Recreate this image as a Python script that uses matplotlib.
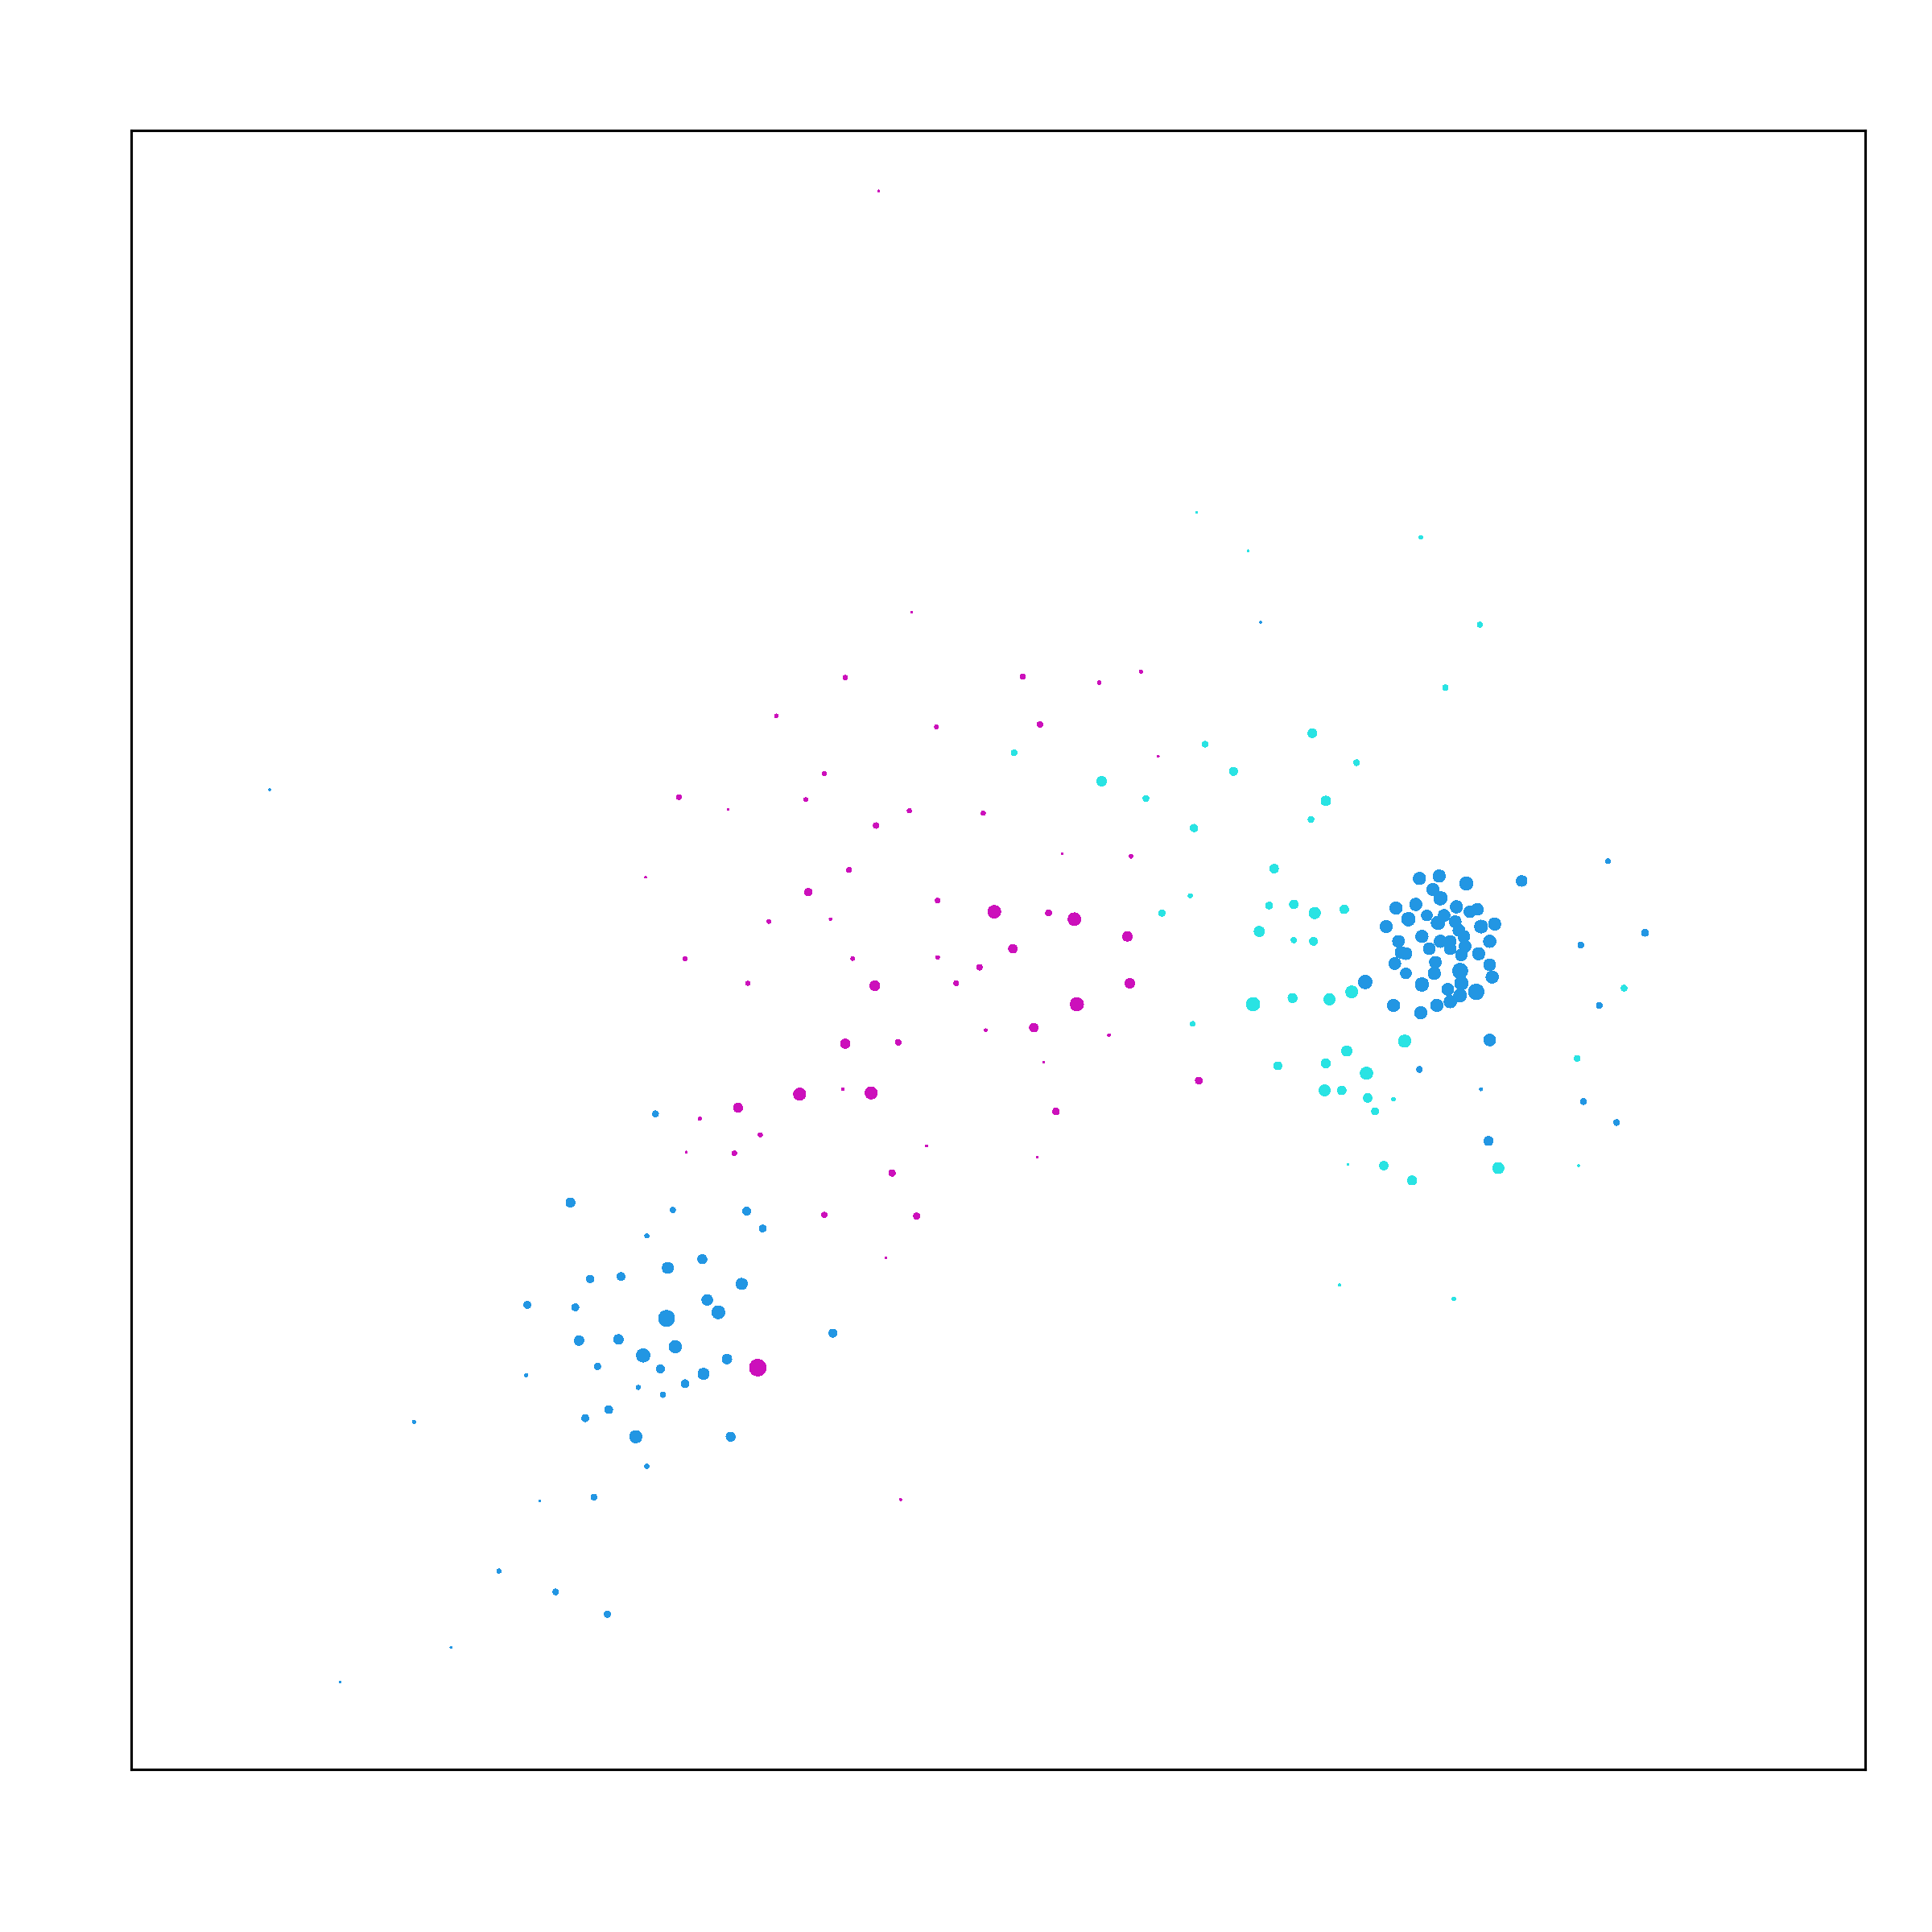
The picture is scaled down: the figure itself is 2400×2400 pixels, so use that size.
import matplotlib
matplotlib.use("Agg")
import matplotlib.pyplot as plt
import numpy as np

# values (picture units, y grows downward)
# each group: x, y, marker diameter
blue_x = [1152, 1168, 1190, 1235, 1163, 1169, 1133, 1149, 1182, 1193, 1199, 1143, 1158,
          1172, 1167, 1181, 1125, 1202, 1213, 1184, 1154, 1188, 1135, 1169, 1177, 1209,
          1189, 1160, 1177, 1137, 1141, 1186, 1200, 1132, 1165, 1209, 1185, 1141, 1164,
          1211, 1108, 1154, 1186, 1175, 1198, 1185, 1177, 1166, 1131, 1153,
          1209, 1152, 1202, 1208, 1305, 1335, 1283, 1298, 1285, 1312, 1023,
          463, 546, 606, 619, 525, 570, 542, 479, 504, 602, 428, 467, 574, 583, 541,
          470, 502, 548, 522, 590, 427, 485, 536, 571, 556, 518, 538, 494, 475, 516,
          593, 525, 532, 676, 336, 482, 438, 405, 451, 493, 366, 276, 219]
blue_y = [713, 711, 717, 715, 722, 729, 737, 734, 736, 740, 738, 746, 743,
          743, 749, 748, 752, 752, 750, 755, 760, 760, 764, 764, 764, 764,
          768, 770, 770, 773, 774, 775, 774, 782, 781, 783, 788, 790, 790,
          793, 797, 799, 798, 803, 805, 808, 813, 816, 816, 822,
          844, 868, 884, 926, 699, 757, 767, 816, 894, 911, 505,
          976, 982, 983, 997, 1003, 1022, 1029, 1038, 1036, 1042, 1059, 1061, 1055, 1065, 1070,
          1088, 1087, 1093, 1100, 1103, 1116, 1109, 1111, 1115, 1123, 1126, 1132, 1144, 1151, 1166,
          1166, 1190, 904, 1082, 1154, 1215, 1218, 1275, 1292, 1310, 1337, 1365, 641]
blue_d = [10.0, 10.0, 10.9, 8.7, 10.0, 10.9, 10.0, 10.0, 10.0, 9.6, 9.6, 10.9, 8.7,
          9.6, 10.9, 9.6, 10.0, 10.5, 10.0, 9.6, 10.0, 9.6, 9.6, 10.0, 9.6, 10.0,
          9.6, 9.6, 9.6, 9.6, 9.6, 9.6, 10.0, 9.6, 9.6, 9.6, 12.2, 8.7, 10.0,
          10.0, 10.9, 10.9, 10.9, 9.6, 12.6, 10.5, 10.0, 10.0, 10.0, 10.0,
          9.6, 4.8, 2.6, 7.4, 3.9, 5.7, 4.8, 4.8, 4.8, 4.8, 1.3,
          7.4, 4.4, 6.5, 5.7, 3.5, 7.4, 9.1, 6.1, 6.5, 9.1, 5.7, 5.7, 8.7, 10.5, 13.0,
          7.8, 7.8, 10.0, 10.9, 7.8, 2.6, 5.2, 6.5, 9.1, 6.5, 3.5, 4.4, 6.5, 5.7, 10.0,
          7.4, 3.5, 4.9, 6.5, 2.6, 4.8, 1.3, 3.5, 4.8, 5.2, 1.3, 1.3, 1.3]

cyan_x = [1034, 1030, 1050, 1067, 1091, 1022, 1050, 1066, 1017, 1049, 1079, 1097, 1140,
          1093, 1037, 1076, 1109, 1075, 1089, 1110, 1131, 1116, 1094, 1123, 1216, 1146,
          966, 943, 968, 1318, 1280, 1281,
          971, 1013, 1153, 1201, 1173, 978, 1065, 1001, 1101, 1076, 1064, 894, 823, 930, 969,
          1087, 1180]
cyan_y = [705, 735, 734, 741, 738, 756, 763, 764, 815, 810, 811, 805, 845,
          853, 865, 863, 871, 885, 885, 891, 892, 902, 945, 946, 948, 958,
          727, 741, 831, 802, 859, 946,
          416, 447, 436, 507, 558, 604, 595, 626, 619, 650, 665, 634, 611, 648, 672,
          1043, 1054]
cyan_d = [7.0, 5.7, 7.0, 9.1, 7.0, 8.3, 4.4, 6.5, 10.9, 7.4, 9.1, 9.6, 10.0,
          8.3, 6.5, 7.4, 10.0, 9.1, 7.0, 7.0, 3.0, 5.7, 1.3, 7.0, 9.1, 7.4,
          3.5, 5.2, 3.9, 4.8, 4.8, 1.7,
          1.3, 1.3, 3.0, 4.2, 4.5, 4.8, 7.2, 6.6, 4.8, 7.8, 4.8, 7.8, 4.8, 4.8, 6.0,
          2.0, 3.0]

mag_x = [713, 740, 686, 830, 892, 926, 630, 760, 844, 940, 669, 551, 591, 654, 738, 798,
         711, 862, 918, 689, 524, 656, 761, 624, 674, 807, 851, 872, 915, 556, 692, 761,
         822, 607, 710, 776, 795, 917, 874, 839, 800, 900, 686, 729, 847, 973, 684, 649,
         707, 599, 568, 617, 857, 557, 596, 752, 842, 724, 669, 744, 719, 615, 731]
mag_y = [155, 497, 550, 549, 554, 545, 581, 590, 588, 614, 628, 647, 657, 649, 658, 660,
         670, 693, 695, 706, 712, 724, 731, 748, 746, 740, 741, 746, 760, 778, 778, 777,
         770, 798, 800, 798, 785, 798, 815, 834, 836, 840, 847, 846, 862, 877, 884, 888,
         887, 899, 908, 921, 902, 935, 936, 930, 939, 952, 986, 987, 1021, 1110, 1217]
mag_d = [1.3, 1.3, 3.8, 4.3, 3.0, 2.7, 3.0, 3.3, 4.6, 1.4, 3.3, 4.0, 1.6, 3.3, 3.5, 3.5,
         4.6, 1.6, 3.0, 4.0, 1.1, 6.0, 4.0, 3.0, 2.2, 10.3, 4.9, 10.3, 7.8, 3.5, 3.0, 3.0,
         7.0, 3.5, 8.0, 4.0, 4.6, 7.8, 10.8, 7.0, 2.2, 2.2, 7.6, 4.6, 1.4, 5.7, 2.2, 9.8,
         9.8, 7.4, 2.6, 3.5, 5.4, 1.3, 3.9, 1.3, 1.3, 5.2, 4.4, 5.2, 1.3, 13.5, 1.7]

DPI = 300
PX = 2400 / 1568 * 72 / DPI   # one picture pixel in points


def area(d):
    # the smallest dots need at least ~2 device pixels to show up solid
    return (np.maximum(np.asarray(d), 1.6) * PX) ** 2


fig = plt.figure(figsize=(8, 8), dpi=DPI)
ax = fig.add_axes([162.5 / 2400, 1 - 2198 / 2400,
                   (2316.5 - 162.5) / 2400, (2198 - 162.5) / 2400])

for xs, ys, ds, col in ((blue_x, blue_y, blue_d, "#2296E3"),
                        (cyan_x, cyan_y, cyan_d, "#29E3E3"),
                        (mag_x, mag_y, mag_d, "#CC10BB")):
    ax.scatter(xs, ys, s=area(ds), c=col, linewidths=0, antialiased=False,
               zorder=2)

ax.set_xlim(106.2, 1513.4)
ax.set_ylim(1436.0, 106.2)
ax.set_xticks([])
ax.set_yticks([])
for sp in ax.spines.values():
    sp.set_linewidth(0.75)
    sp.set_color("black")

fig.savefig("out.png", dpi=DPI, facecolor="white")
